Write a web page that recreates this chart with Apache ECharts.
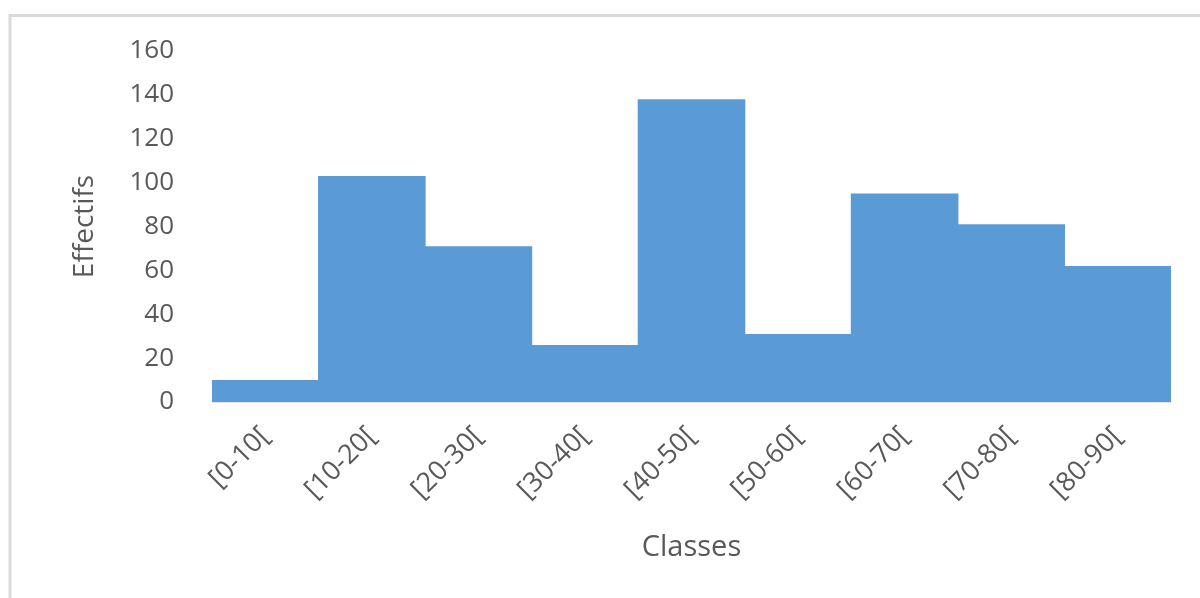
<!DOCTYPE html>
<html>
<head>
<meta charset="utf-8">
<title>Effectifs par classe</title>
<script src="https://cdn.jsdelivr.net/npm/echarts@6/dist/echarts.min.js"></script>
<style>
  html, body { margin: 0; padding: 0; background: #ffffff; }
  #chart { width: 1200px; height: 598px; }
</style>
</head>
<body>
<div id="chart"></div>
<script>
// Class intervals and their counts (histogram, bars touching)
const classes = ['[0-10[', '[10-20[', '[20-30[', '[30-40[', '[40-50[', '[50-60[', '[60-70[', '[70-80[', '[80-90['];
const effectifs = [10, 103, 71, 26, 138, 31, 95, 81, 62];

// Y axis scale
const yMin = 0;
const yMax = 160;
const yStep = 20;

const textColor = '#595959';
const fontFamily = '"Open Sans", "Liberation Sans", sans-serif';

const chart = echarts.init(document.getElementById('chart'), null, { renderer: 'canvas' });

chart.setOption({
  backgroundColor: '#ffffff',
  animation: false,
  graphic: [{
    type: 'rect',
    shape: { x: 10, y: 15.5, width: 1300, height: 700 },
    style: { fill: 'none', stroke: '#d9d9d9', lineWidth: 3 },
    silent: true,
    z: -1
  }],
  grid: { left: 212, right: 29, top: 51, bottom: 196 },
  xAxis: {
    type: 'category',
    data: classes,
    name: 'Classes',
    nameLocation: 'middle',
    nameGap: 131,
    nameTextStyle: { color: textColor, fontSize: 29, fontFamily: fontFamily },
    axisLine: { show: true, lineStyle: { color: '#d9d9d9', width: 1.5 } },
    axisTick: { show: false },
    axisLabel: {
      rotate: 45,
      margin: 30,
      color: textColor,
      fontSize: 27,
      fontFamily: fontFamily,
      interval: 0
    },
    splitLine: { show: false }
  },
  yAxis: {
    type: 'value',
    min: yMin,
    max: yMax,
    interval: yStep,
    name: 'Effectifs',
    nameLocation: 'middle',
    nameGap: 113,
    nameTextStyle: { color: textColor, fontSize: 28, fontFamily: fontFamily },
    axisLine: { show: false },
    axisTick: { show: false },
    axisLabel: { margin: 38, color: textColor, fontSize: 26, fontFamily: fontFamily },
    splitLine: { show: false }
  },
  series: [{
    type: 'bar',
    data: effectifs,
    // slightly wider than the category so neighbouring bars merge without seams
    barWidth: '101%',
    barGap: '-100%',
    itemStyle: { color: '#5b9bd5' }
  }]
});
</script>
</body>
</html>
